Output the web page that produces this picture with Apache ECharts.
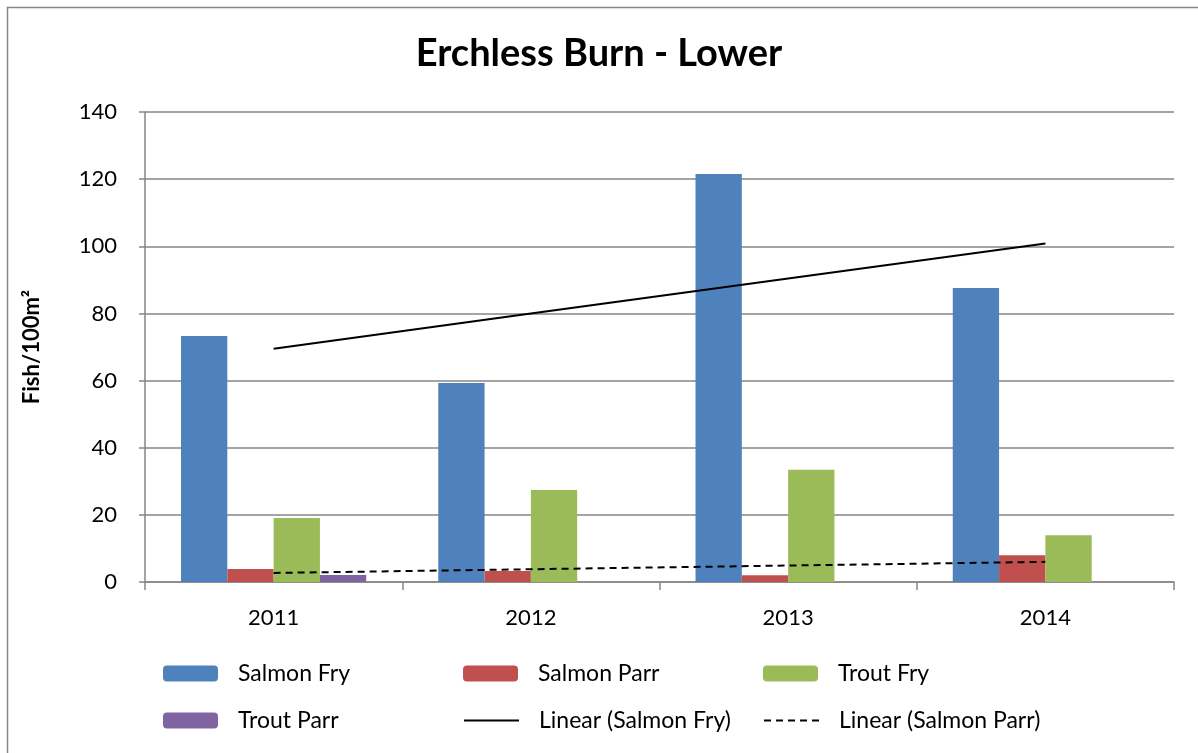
<!DOCTYPE html>
<html>
<head>
<meta charset="utf-8">
<script src="https://cdn.jsdelivr.net/npm/echarts@6/dist/echarts.min.js"></script>
<style>
  html, body { margin: 0; padding: 0; background: #fff; }
  #grafico { width: 1198px; height: 753px; }
</style>
</head>
<body>
<div id="grafico"></div>
<script>
	// dados
	var anos = ['2011', '2012', '2013', '2014'];
	var salmonFry = [73.3, 59.3, 121.5, 87.6];
	var salmonParr = [3.9, 3.3, 2.0, 8.0];
	var troutFry = [19.1, 27.4, 33.4, 13.9];
	var troutParr = [2.1, null, null, null];
	// linhas de tendencia
	var linearFry = [69.5, 80.0, 90.4, 100.8];
	var linearParr = [2.7, 3.8, 4.9, 6.0];

	var fonte = 'Lato, "Open Sans", sans-serif';
	var cinza = '#868686';

	var myChart = echarts.init(document.getElementById('grafico'));

	// uma legenda por item para fixar as colunas
	var legenda = function(nome, x, y, linha){
		var leg = {
			data: [nome],
			left: x,
			top: y,
			itemWidth: 55,
			itemHeight: 16,
			itemGap: 0,
			textStyle: { fontFamily: fonte, fontSize: 23, color: '#000', padding: [0, 0, 0, 15] }
		};
		if (linha) { leg.itemStyle = { opacity: 0 }; } // esconde o simbolo, fica so a linha
		return leg;
	};

	var option = {
		animation: false,
		title: {
			text: 'Erchless Burn - Lower',
			left: 'center',
			top: 30,
			textStyle: { fontFamily: fonte, fontSize: 38, fontWeight: 'bold', color: '#000' }
		},
		graphic: [{
			type: 'rect',
			shape: { x: 7.5, y: 7.5, width: 1300, height: 900 },
			style: { fill: 'none', stroke: cinza, lineWidth: 1.5 },
			silent: true
		}],
		legend: [
			legenda('Salmon Fry', 158, 657),
			legenda('Salmon Parr', 458, 657),
			legenda('Trout Fry', 758, 657),
			legenda('Trout Parr', 158, 704),
			legenda('Linear (Salmon Fry)', 458, 704, true),
			legenda('Linear (Salmon Parr)', 758, 704, true)
		],
		grid: { left: 145, right: 24, top: 112, bottom: 171 },
		xAxis: {
			type: 'category',
			data: anos,
			axisLine: { lineStyle: { color: cinza, width: 1.5 } },
			axisTick: { show: true, length: 8, lineStyle: { color: cinza, width: 1.5 } },
			axisLabel: { fontFamily: fonte, fontSize: 22, color: '#000', margin: 25 }
		},
		yAxis: {
			type: 'value',
			min: 0,
			max: 140,
			interval: 20,
			name: 'Fish/100m²',
			nameLocation: 'middle',
			nameRotate: 90,
			nameGap: 102,
			nameTextStyle: { fontFamily: fonte, fontSize: 22, fontWeight: 'bold', color: '#000' },
			axisLine: { show: true, lineStyle: { color: cinza, width: 1.5 } },
			axisTick: { show: true, length: 6, lineStyle: { color: cinza, width: 1.5 } },
			axisLabel: { fontFamily: fonte, fontSize: 22, color: '#000', margin: 28 },
			splitLine: { lineStyle: { color: cinza, width: 1.5 } }
		},
		series: [
			{ name: 'Salmon Fry', type: 'bar', data: salmonFry, barGap: '0%', barCategoryGap: '28%', itemStyle: { color: '#4F81BD' } },
			{ name: 'Salmon Parr', type: 'bar', data: salmonParr, itemStyle: { color: '#C0504D' } },
			{ name: 'Trout Fry', type: 'bar', data: troutFry, itemStyle: { color: '#9BBB59' } },
			{ name: 'Trout Parr', type: 'bar', data: troutParr, itemStyle: { color: '#8064A2' } },
			{
				name: 'Linear (Salmon Fry)', type: 'line', data: linearFry,
				symbol: 'none', itemStyle: { color: '#000' },
				lineStyle: { color: '#000', width: 2 }
			},
			{
				name: 'Linear (Salmon Parr)', type: 'line', data: linearParr,
				symbol: 'none', itemStyle: { color: '#000' },
				lineStyle: { color: '#000', width: 2, type: [7, 5] }
			}
		]
	};
	// aplico as alterações de layout no chart
	myChart.setOption(option);
</script>
</body>
</html>
